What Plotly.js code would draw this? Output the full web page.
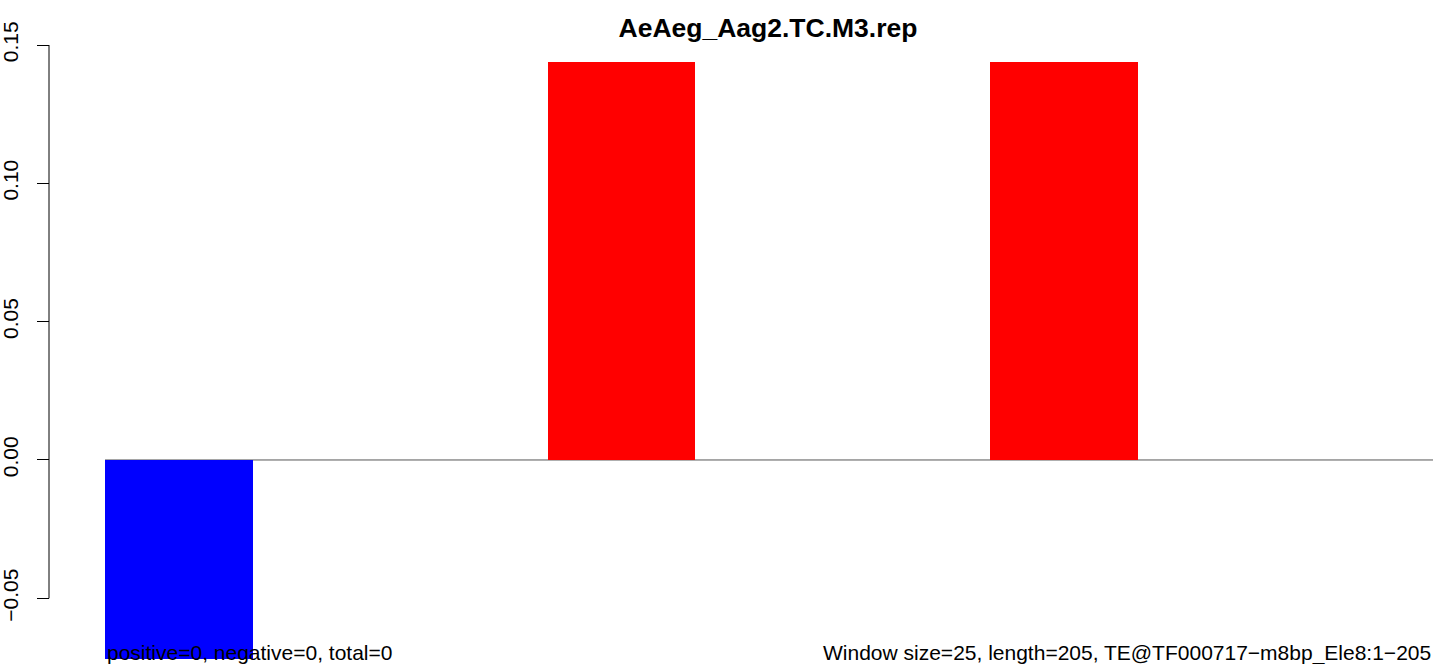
<!DOCTYPE html>
<html>
<head>
<meta charset="utf-8">
<script src="https://cdn.plot.ly/plotly-3.0.1.min.js"></script>
<style>html,body{margin:0;padding:0;background:#fff;}#chart{width:1439px;height:664px;}</style>
</head>
<body>
<div id="chart"></div>
<script>
const windows = [1, 2, 3, 4, 5, 6, 7, 8, 9];
const values = [-0.072, 0, 0, 0.144, 0, 0, 0.144, 0, 0];
const tickVals = [-0.05, 0, 0.05, 0.10, 0.15];
const tickText = ["\u22120.05", "0.00", "0.05", "0.10", "0.15"];
const chartTitle = "AeAeg_Aag2.TC.M3.rep";
const leftNote = "positive=0, negative=0, total=0";
const rightNote = "Window size=25, length=205, TE@TF000717\u2212m8bp_Ele8:1\u2212205";

const colors = values.map(v => v < 0 ? "#0000FF" : (v > 0 ? "#FF0000" : "rgba(0,0,0,0)"));
const FONT = "'Liberation Sans', Arial, Helvetica, sans-serif";

const trace = {
  type: "bar",
  x: windows,
  y: values,
  marker: {color: colors, line: {width: 0}},
  hoverinfo: "none"
};

const layout = {
  width: 1439, height: 664,
  margin: {l: 49, r: 6, t: 45, b: 4, pad: 0},
  paper_bgcolor: "#fff", plot_bgcolor: "#fff",
  showlegend: false,
  bargap: 0,
  font: {family: FONT, color: "#000", size: 21},
  title: {
    text: "<b>" + chartTitle + "</b>",
    font: {family: FONT, size: 26.5, color: "#000"},
    xref: "paper", x: 0.5195, xanchor: "center",
    yref: "container", y: 1 - 28/664, yanchor: "middle"
  },
  xaxis: {
    domain: [(105 - 49) / 1384, 1],
    range: [0.5, 9.5],
    showticklabels: false, showline: false, showgrid: false, zeroline: false, ticks: ""
  },
  yaxis: {
    range: [-0.0723, 0.15],
    anchor: "free", position: 0,
    tickmode: "array", tickvals: tickVals, ticktext: tickText,
    ticks: "outside", ticklen: 12, tickwidth: 1, tickcolor: "#000",
    tickangle: -90,
    ticklabelstandoff: 11,
    tickfont: {family: FONT, size: 21, color: "#000"},
    showline: false, showgrid: false, zeroline: false
  },
  shapes: [
    {type: "line", xref: "paper", yref: "y", x0: 0, x1: 0, y0: -0.05, y1: 0.15,
     line: {color: "#000", width: 1}},
    {type: "line", xref: "x", yref: "y", x0: 0.5, x1: 9.5, y0: 0, y1: 0, layer: "below",
     line: {color: "#555555", width: 1}}
  ],
  annotations: [
    {text: leftNote, xref: "x", x: 0.5, xanchor: "left", yref: "paper", y: 0.0114, yanchor: "middle",
     showarrow: false, font: {family: FONT, size: 21, color: "#000"}},
    {text: rightNote, xref: "x", x: 9.5, xanchor: "right", yref: "paper", y: 0.0114, yanchor: "middle",
     showarrow: false, font: {family: FONT, size: 21, color: "#000"}}
  ]
};

Plotly.newPlot("chart", [trace], layout, {displayModeBar: false, staticPlot: true});
</script>
</body>
</html>
